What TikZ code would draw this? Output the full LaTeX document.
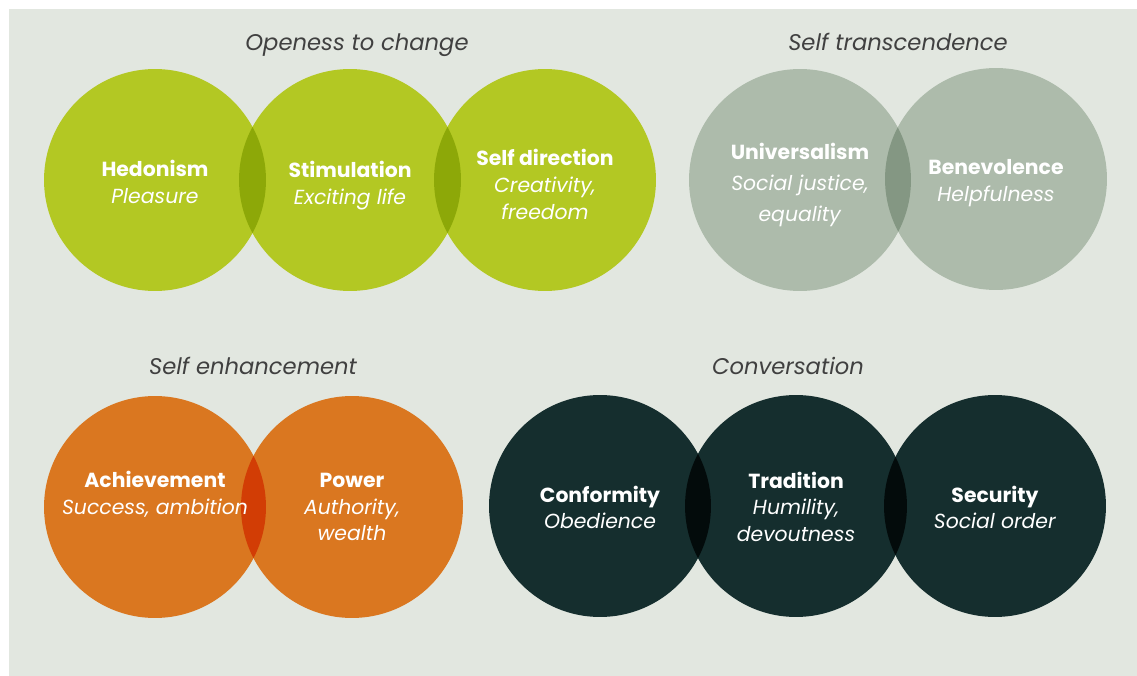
\documentclass[tikz,border=0pt]{standalone}
\usepackage{fontspec}
\setmainfont{Poppins}
\usetikzlibrary{positioning}

\definecolor{bgpanel}{HTML}{E2E7E0}
\definecolor{lime}{HTML}{B3C823}
\definecolor{limelens}{HTML}{8DA808}
\definecolor{sage}{HTML}{ADBBAB}
\definecolor{sagelens}{HTML}{849783}
\definecolor{amber}{HTML}{DA7720}
\definecolor{amberlens}{HTML}{D23D05}
\definecolor{pine}{HTML}{152E2E}
\definecolor{pinelens}{HTML}{030B0B}
\definecolor{grouptxt}{HTML}{404040}

\begin{document}
\begin{tikzpicture}[x=0.02cm, y=-0.02cm,
    valcircle/.style={circle, minimum size=4.44cm, inner sep=0pt},
    valtext/.style={text=white, align=center, font=\fontsize{11.6}{15.3}\selectfont},
    grouptitle/.style={text=grouptxt, anchor=base, font=\fontsize{12.9}{16}\selectfont\itshape}
]

    \useasboundingbox (0,0) rectangle (1137,676);
    \fill[bgpanel] (9,9) rectangle (1137,676);

    % Openess to change
    \node[valcircle, fill=lime] (hed) at (155,180) {};
    \node[valcircle, fill=lime] (sti) at (350,180) {};
    \node[valcircle, fill=lime] (sdir) at (545,180) {};
    \begin{scope}
        \clip (hed.center) circle (2.22cm);
        \fill[limelens] (sti.center) circle (2.22cm);
    \end{scope}
    \begin{scope}
        \clip (sti.center) circle (2.22cm);
        \fill[limelens] (sdir.center) circle (2.22cm);
    \end{scope}

    % Self transcendence
    \node[valcircle, fill=sage] (uni) at (800,180) {};
    \node[valcircle, fill=sage] (ben) at (996,179) {};
    \begin{scope}
        \clip (uni.center) circle (2.22cm);
        \fill[sagelens] (ben.center) circle (2.22cm);
    \end{scope}

    % Self enhancement
    \node[valcircle, fill=amber] (ach) at (155,507) {};
    \node[valcircle, fill=amber] (pow) at (352,507) {};
    \begin{scope}
        \clip (ach.center) circle (2.22cm);
        \fill[amberlens] (pow.center) circle (2.22cm);
    \end{scope}

    % Conversation
    \node[valcircle, fill=pine] (con) at (600,506) {};
    \node[valcircle, fill=pine] (tra) at (796,506) {};
    \node[valcircle, fill=pine] (sec) at (995,506) {};
    \begin{scope}
        \clip (con.center) circle (2.22cm);
        \fill[pinelens] (tra.center) circle (2.22cm);
    \end{scope}
    \begin{scope}
        \clip (tra.center) circle (2.22cm);
        \fill[pinelens] (sec.center) circle (2.22cm);
    \end{scope}

    % texts
    \node[grouptitle] (openT) at (357,51) {Openess to change};
    \node[grouptitle] (transT) at (898,51) {Self transcendence};
    \node[grouptitle] (enhT) at (253,374) {Self enhancement};
    \node[grouptitle] (consT) at (788,374) {Conversation};

    \node[valtext] (hedT) at ([yshift=-1.1pt]hed) {\textbf{Hedonism}\\\textit{Pleasure}};
    \node[valtext] (stiT) at ([yshift=-3pt]sti) {\textbf{Stimulation}\\\textit{Exciting life}};
    \node[valtext] (sdirT) at ([yshift=-2.5pt]sdir) {\textbf{Self direction}\\\textit{Creativity,}\\\textit{freedom}};
    \node[valtext, font=\fontsize{11.6}{17.5}\selectfont] (uniT) at ([yshift=-2.8pt]uni) {\textbf{Universalism}\\\textit{Social justice,}\\\textit{equality}};
    \node[valtext] (benT) at ([yshift=-2.1pt]ben) {\textbf{Benevolence}\\\textit{Helpfulness}};
    \node[valtext] (achT) at ([yshift=7pt]ach) {\textbf{Achievement}\\\textit{Success, ambition}};
    \node[valtext] (powT) at (pow) {\textbf{Power}\\\textit{Authority,}\\\textit{wealth}};
    \node[valtext] (conT) at ([yshift=-0.8pt]con) {\textbf{Conformity}\\\textit{Obedience}};
    \node[valtext] (traT) at ([yshift=-0.5pt]tra) {\textbf{Tradition}\\\textit{Humility,}\\\textit{devoutness}};
    \node[valtext] (secT) at ([yshift=-0.8pt]sec) {\textbf{Security}\\\textit{Social order}};

\end{tikzpicture}
\end{document}
